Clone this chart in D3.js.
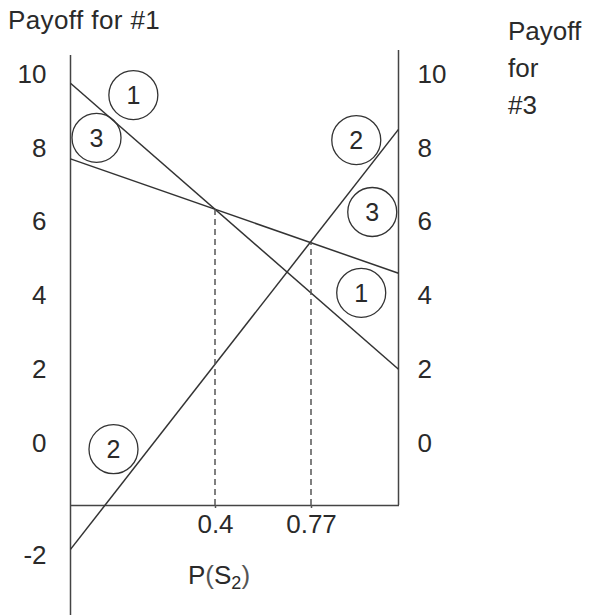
<!DOCTYPE html>
<html>
<head>
<meta charset="utf-8">
<script src="https://cdn.jsdelivr.net/npm/d3@7"></script>
<style>
  body { margin: 0; background: #fff; }
  svg text { font-family: "Liberation Sans", Arial, Helvetica, sans-serif; fill: #2a2a2a; }
</style>
</head>
<body>
<script>
// probability axis: the sketch is not to scale, so the marked points get their own stops
const pDomain = [0, 0.4, 0.77, 1];
const xTicks = [0.4, 0.77];
const xTickLabels = ["0.4", "0.77"];

// payoff ticks (the -2 sits lower than the rest in the sketch)
const yDomain = [-2, 0, 10];
const leftTicks = [10, 8, 6, 4, 2, 0, -2];
const rightTicks = [10, 8, 6, 4, 2, 0];

// payoff lines: value at P(S2)=0 (left, #1) and at P(S2)=1 (right, #3)
const strategies = ["1", "2", "3"];
const payoffAt0 = [9.75, -1.9, 7.7];
const payoffAt1 = [2.0, 8.5, 4.6];

// circled labels
const tagNames = ["1", "3", "2", "3", "1", "2"];
const tagP = [0.174, 0.072, 0.889, 0.931, 0.902, 0.119];
const tagPayoff = [9.43, 8.27, 8.21, 6.26, 4.07, -0.11];

// dashed drops at the marked points, both end on line of strategy 3
const dropOn = [2, 2];

const W = 592, H = 615;
const baseY = 505;

const svg = d3.select("body").append("svg")
    .attr("width", W)
    .attr("height", H);

const x = d3.scaleLinear()
    .domain(pDomain)
    .range([70.5, 215, 311, 398.5]);

const y = d3.scaleLinear()
    .domain(yDomain)
    .range([555, 443, 74]);

// titles
svg.append("text")
    .attr("x", 8).attr("y", 29)
    .style("font-size", "26px")
    .style("letter-spacing", "0.4px")
    .text("Payoff for #1");

svg.append("text")
    .attr("x", 508).attr("y", 40)
    .style("font-size", "26px")
    .selectAll("tspan")
    .data(["Payoff", "for", "#3"])
    .join("tspan")
    .attr("x", 508)
    .attr("dy", (d, i) => i === 0 ? 0 : 37)
    .text(d => d);

// vertical axes lines
svg.append("line")
    .attr("x1", x(0)).attr("x2", x(0))
    .attr("y1", 55).attr("y2", H)
    .attr("stroke", "#444").attr("stroke-width", 1.5);

svg.append("line")
    .attr("x1", x(1)).attr("x2", x(1))
    .attr("y1", 50).attr("y2", baseY)
    .attr("stroke", "#444").attr("stroke-width", 1.5);

// tick labels
const plain = d => String(d);

const leftAxis = svg.append("g")
    .attr("transform", "translate(" + x(0) + ",0)")
    .call(d3.axisLeft(y).tickValues(leftTicks).tickFormat(plain).tickSize(0).tickPadding(24));
leftAxis.select(".domain").remove();

const rightAxis = svg.append("g")
    .attr("transform", "translate(" + x(1) + ",0)")
    .call(d3.axisRight(y).tickValues(rightTicks).tickFormat(plain).tickSize(0).tickPadding(19));
rightAxis.select(".domain").remove();

const bottomAxis = svg.append("g")
    .attr("transform", "translate(0," + baseY + ")")
    .call(d3.axisBottom(x)
        .tickValues(xTicks)
        .tickFormat((d, i) => xTickLabels[i])
        .tickSize(3)
        .tickPadding(7)
        .tickSizeOuter(0));
bottomAxis.select(".domain").attr("stroke", "#444").attr("stroke-width", 1.5);
bottomAxis.selectAll(".tick line").attr("stroke", "#555").attr("stroke-width", 1.5);

svg.selectAll("g .tick text")
    .attr("fill", "#2a2a2a")
    .style("font-size", "26px")
    .style("font-family", "'Liberation Sans', Arial, sans-serif");

// x title P(S2)
const xt = svg.append("text")
    .attr("x", 188).attr("y", 584)
    .style("font-size", "26px");
xt.append("tspan").text("P");
xt.append("tspan").attr("fill", "#555").text("(");
xt.append("tspan").text("S");
xt.append("tspan").attr("dy", 5).style("font-size", "18px").text("2");
xt.append("tspan").attr("dy", -5).attr("fill", "#555").text(")");

// payoff lines
const line = d3.line();
svg.selectAll(".payoff")
    .data(strategies)
    .join("path")
    .attr("class", "payoff")
    .attr("d", (d, i) => line([[x(0), y(payoffAt0[i])], [x(1), y(payoffAt1[i])]]))
    .attr("fill", "none")
    .attr("stroke", "#333")
    .attr("stroke-width", 1.5);

// dashed drops from the crossings down to the P axis
function lineYAt(i, px) {
    const t = (px - x(0)) / (x(1) - x(0));
    return y(payoffAt0[i]) + t * (y(payoffAt1[i]) - y(payoffAt0[i]));
}
svg.selectAll(".drop")
    .data(xTicks)
    .join("line")
    .attr("class", "drop")
    .attr("x1", d => x(d)).attr("x2", d => x(d))
    .attr("y1", baseY)
    .attr("y2", (d, i) => lineYAt(dropOn[i], x(d)))
    .attr("stroke", "#555")
    .attr("stroke-width", 1.5)
    .attr("stroke-dasharray", "6,4");

// circled strategy tags
const tags = svg.selectAll(".tag")
    .data(tagNames)
    .join("g")
    .attr("class", "tag")
    .attr("transform", (d, i) => "translate(" + x(tagP[i]) + "," + y(tagPayoff[i]) + ")");

tags.append("circle")
    .attr("r", 24.5)
    .attr("fill", "none")
    .attr("stroke", "#333")
    .attr("stroke-width", 1.3);

tags.append("text")
    .attr("text-anchor", "middle")
    .attr("dy", "0.36em")
    .style("font-size", "25px")
    .text(d => d);
</script>
</body>
</html>
